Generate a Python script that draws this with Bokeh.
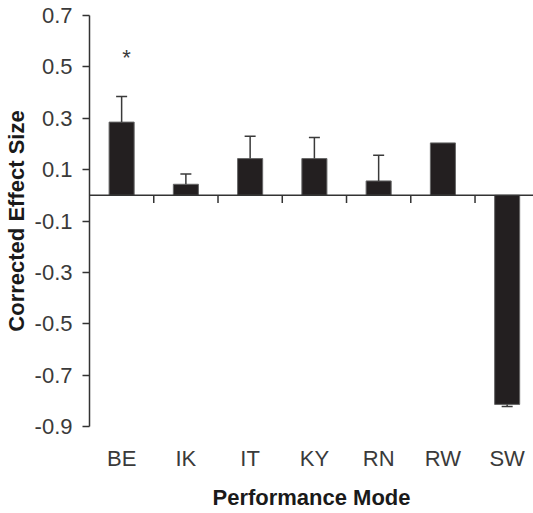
from bokeh.plotting import figure
from bokeh.models import Range1d, FixedTicker, Span, ColumnDataSource
from bokeh.core.properties import value
from bokeh.embed import file_html
from bokeh.resources import INLINE

# ---- data ----
categories = ["BE", "IK", "IT", "KY", "RN", "RW", "SW"]
effect = [0.285, 0.043, 0.143, 0.143, 0.056, 0.204, -0.814]
error = [0.100, 0.040, 0.087, 0.082, 0.100, 0.0, 0.008]
significant = ["*", "", "", "", "", "", ""]
y_ticks = [-0.9, -0.7, -0.5, -0.3, -0.1, 0.1, 0.3, 0.5, 0.7]
y_tick_labels = ["-0.9", "-0.7", "-0.5", "-0.3", "-0.1", "0.1", "0.3", "0.5", "0.7"]

FONT = "Liberation Sans"
TXT = "#3a3a3a"

xs = list(range(len(categories)))
ends = [v + (e if v >= 0 else -e) for v, e in zip(effect, error)]

p = figure(frame_width=444, frame_height=411,
           min_border_left=89, min_border_right=0, min_border_top=15, min_border_bottom=87,
           x_range=Range1d(-0.5, 6.41), y_range=Range1d(-0.9, 0.7),
           output_backend="svg", toolbar_location=None,
           background_fill_color="white", border_fill_color="white")
p.outline_line_color = None
p.xgrid.visible = False
p.ygrid.visible = False

# bars
src = ColumnDataSource(dict(x=xs, top=effect, end=ends, err=error, cat=categories))
p.vbar(x="x", top="top", bottom=0, width=0.39, source=src,
       fill_color="#231f20", line_color="#666666", line_width=1)

# error bars (only where error > 0)
ex = [x for x, e in zip(xs, error) if e > 0]
ev = [v for v, e in zip(effect, error) if e > 0]
ee = [en for en, e in zip(ends, error) if e > 0]
p.segment(x0=ex, y0=ev, x1=ex, y1=ee, line_color="#3a3a3a", line_width=1.5)
p.scatter(x=ex, y=ee, marker="dash", size=11, line_color="#3a3a3a", line_width=1.5)

# significance marker
sx = [x for x, s in zip(xs, significant) if s]
sy = [en for en, s in zip(ends, significant) if s]
st = [s for s in significant if s]
p.text(x=sx, y=sy, text=st, x_offset=5, y_offset=-39, text_align="center",
       text_baseline="alphabetic", text_font=value(FONT), text_font_size="22px",
       text_color=TXT)

# zero line with category separator ticks
p.add_layout(Span(location=0, dimension="width", line_color="#333333", line_width=1.5))
bx = [x + 0.5 for x in xs[:-1]]
p.segment(x0=bx, y0=[0] * len(bx), x1=bx, y1=[-0.03] * len(bx),
          line_color="#333333", line_width=1.5)

# x axis (labels only)
xa = p.xaxis[0]
xa.ticker = FixedTicker(ticks=xs)
xa.major_label_overrides = {x: c for x, c in zip(xs, categories)}
xa.axis_line_color = None
xa.major_tick_line_color = None
xa.minor_tick_line_color = None
xa.major_label_standoff = 13
xa.major_label_text_font = FONT
xa.major_label_text_font_size = "22px"
xa.major_label_text_color = TXT
xa.axis_label = "Performance Mode"
xa.axis_label_text_font = FONT
xa.axis_label_text_font_style = "bold"
xa.axis_label_text_font_size = "22px"
xa.axis_label_text_color = "#1a1a1a"
xa.axis_label_standoff = 11

# y axis
ya = p.yaxis[0]
ya.ticker = FixedTicker(ticks=y_ticks)
ya.major_label_overrides = {t: l for t, l in zip(y_ticks, y_tick_labels)}
ya.axis_line_color = "#333333"
ya.axis_line_width = 1.5
ya.major_tick_line_color = "#333333"
ya.major_tick_line_width = 1.5
ya.major_tick_in = 0
ya.major_tick_out = 7
ya.minor_tick_line_color = None
ya.major_label_standoff = 10
ya.major_label_text_font = FONT
ya.major_label_text_font_size = "22px"
ya.major_label_text_color = TXT
ya.axis_label = "Corrected Effect Size"
ya.axis_label_text_font = FONT
ya.axis_label_text_font_style = "bold"
ya.axis_label_text_font_size = "22px"
ya.axis_label_text_color = "#1a1a1a"
ya.axis_label_standoff = 3

open("out.html", "w").write(file_html(p, INLINE))
